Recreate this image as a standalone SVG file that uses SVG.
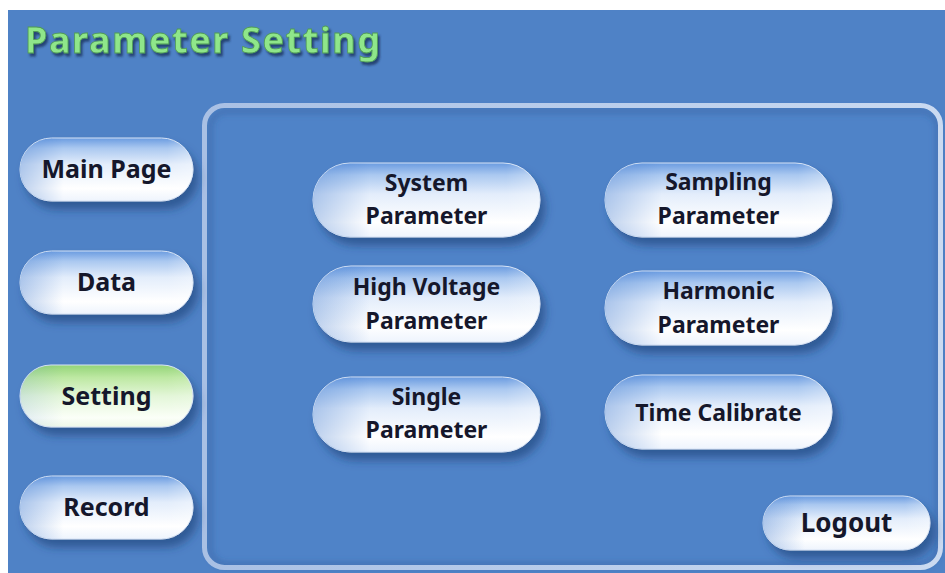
<svg xmlns="http://www.w3.org/2000/svg" width="945" height="573" viewBox="0 0 945 573">
<style>
.lbl{font-family:"Noto Sans","Open Sans","DejaVu Sans",sans-serif;font-weight:700;font-size:23px;fill:#15172b;text-anchor:middle}
.big{font-size:25px}
.pill{fill:url(#gBlue);stroke:#d6e3f5;stroke-width:1;filter:url(#shadow)}
.gloss{fill:url(#gSide)}
.title{font-family:"Noto Sans","Open Sans","DejaVu Sans",sans-serif;font-weight:700;font-size:36px;fill:#8fe68a;stroke:#4f9a55;stroke-width:0.8;letter-spacing:1.6px;filter:url(#tshadow)}
</style>
<defs>
<linearGradient id="gBlue" x1="0" y1="0" x2="0" y2="1">
<stop offset="0" stop-color="#6a9be0"/>
<stop offset="0.16" stop-color="#aac8f0"/>
<stop offset="0.42" stop-color="#e3edfb"/>
<stop offset="0.8" stop-color="#ffffff"/>
<stop offset="1" stop-color="#eef4fd"/>
</linearGradient>
<linearGradient id="gGreen" x1="0" y1="0" x2="0" y2="1">
<stop offset="0" stop-color="#93d477"/>
<stop offset="0.2" stop-color="#bde8a2"/>
<stop offset="0.5" stop-color="#e3f6d8"/>
<stop offset="0.85" stop-color="#fbfff8"/>
<stop offset="1" stop-color="#eef8e8"/>
</linearGradient>
<linearGradient id="gSide" x1="0" y1="0" x2="1" y2="0">
<stop offset="0" stop-color="#3f78cc" stop-opacity="0.35"/>
<stop offset="0.25" stop-color="#3f78cc" stop-opacity="0"/>
<stop offset="0.85" stop-color="#ffffff" stop-opacity="0"/>
<stop offset="1" stop-color="#ffffff" stop-opacity="0.3"/>
</linearGradient>
<linearGradient id="gFrame" x1="0" y1="0" x2="1" y2="0">
<stop offset="0" stop-color="#a9c0e4"/>
<stop offset="0.5" stop-color="#b9cdeb"/>
<stop offset="1" stop-color="#cadaf1"/>
</linearGradient>
<filter id="shadow" x="-10%" y="-20%" width="130%" height="160%">
<feGaussianBlur in="SourceAlpha" stdDeviation="4"/>
<feOffset dx="5" dy="8" result="b"/>
<feFlood flood-color="#1b3a6e" flood-opacity="0.55"/>
<feComposite in2="b" operator="in"/>
<feMerge><feMergeNode/><feMergeNode in="SourceGraphic"/></feMerge>
</filter>
<filter id="tshadow" x="-5%" y="-20%" width="110%" height="150%">
<feGaussianBlur in="SourceAlpha" stdDeviation="1.2"/>
<feOffset dx="2" dy="2.5" result="b"/>
<feFlood flood-color="#1d3560" flood-opacity="0.8"/>
<feComposite in2="b" operator="in"/>
<feMerge><feMergeNode/><feMergeNode in="SourceGraphic"/></feMerge>
</filter>
<filter id="inner" x="-5%" y="-5%" width="110%" height="110%">
<feGaussianBlur stdDeviation="3"/>
</filter>
</defs>

<rect x="0" y="0" width="945" height="573" fill="#ffffff"/>
<rect x="8" y="10" width="937" height="563" fill="#4f82c6"/>

<text class="title" x="25" y="53">Parameter Setting</text>

<g id="panel">
<rect x="204.5" y="105.5" width="736" height="462" rx="20" fill="#4f83c8"/>
<rect x="210" y="111" width="728" height="454" rx="17" fill="none" stroke="#2f5a98" stroke-opacity="0.55" stroke-width="4" filter="url(#inner)"/>
<rect x="204.5" y="105.5" width="736" height="462" rx="20" fill="none" stroke="url(#gFrame)" stroke-width="5"/>
</g>

<g id="main-page">
<rect class="pill" x="20" y="138" width="173" height="63" rx="31.5"/>
<rect class="gloss" x="20" y="138" width="173" height="63" rx="31.5"/>
<text class="lbl big" x="106.5" y="178">Main Page</text>
</g>
<g id="data">
<rect class="pill" x="20" y="251" width="173" height="63" rx="31.5"/>
<rect class="gloss" x="20" y="251" width="173" height="63" rx="31.5"/>
<text class="lbl big" x="106.5" y="291">Data</text>
</g>
<g id="setting">
<rect class="pill" x="20" y="365" width="173" height="62" rx="31" style="fill:url(#gGreen)"/>
<rect class="gloss" x="20" y="365" width="173" height="62" rx="31" opacity="0.4"/>
<text class="lbl big" x="106.5" y="404.5">Setting</text>
</g>
<g id="record">
<rect class="pill" x="20" y="476" width="173" height="63" rx="31.5"/>
<rect class="gloss" x="20" y="476" width="173" height="63" rx="31.5"/>
<text class="lbl big" x="106.5" y="516">Record</text>
</g>

<g id="system-parameter">
<rect class="pill" x="313" y="163" width="227" height="74" rx="37"/>
<rect class="gloss" x="313" y="163" width="227" height="74" rx="37"/>
<text class="lbl" x="426.5" y="191">System</text>
<text class="lbl" x="426.5" y="224">Parameter</text>
</g>
<g id="high-voltage-parameter">
<rect class="pill" x="313" y="266" width="227" height="76" rx="38"/>
<rect class="gloss" x="313" y="266" width="227" height="76" rx="38"/>
<text class="lbl" x="426.5" y="295">High Voltage</text>
<text class="lbl" x="426.5" y="329">Parameter</text>
</g>
<g id="single-parameter">
<rect class="pill" x="313" y="377" width="227" height="75" rx="37.5"/>
<rect class="gloss" x="313" y="377" width="227" height="75" rx="37.5"/>
<text class="lbl" x="426.5" y="405">Single</text>
<text class="lbl" x="426.5" y="438">Parameter</text>
</g>
<g id="sampling-parameter">
<rect class="pill" x="605" y="163" width="227" height="74" rx="37"/>
<rect class="gloss" x="605" y="163" width="227" height="74" rx="37"/>
<text class="lbl" x="718.5" y="190">Sampling</text>
<text class="lbl" x="718.5" y="224">Parameter</text>
</g>
<g id="harmonic-parameter">
<rect class="pill" x="605" y="271" width="227" height="74" rx="37"/>
<rect class="gloss" x="605" y="271" width="227" height="74" rx="37"/>
<text class="lbl" x="718.5" y="299">Harmonic</text>
<text class="lbl" x="718.5" y="333">Parameter</text>
</g>
<g id="time-calibrate">
<rect class="pill" x="605" y="375" width="227" height="74" rx="37"/>
<rect class="gloss" x="605" y="375" width="227" height="74" rx="37"/>
<text class="lbl" x="718.5" y="421">Time Calibrate</text>
</g>
<g id="logout">
<rect class="pill" x="763" y="496" width="167" height="54" rx="27"/>
<rect class="gloss" x="763" y="496" width="167" height="54" rx="27"/>
<text class="lbl" x="846.5" y="532" style="font-size:26px">Logout</text>
</g>

<g id="connectors"></g>
</svg>
